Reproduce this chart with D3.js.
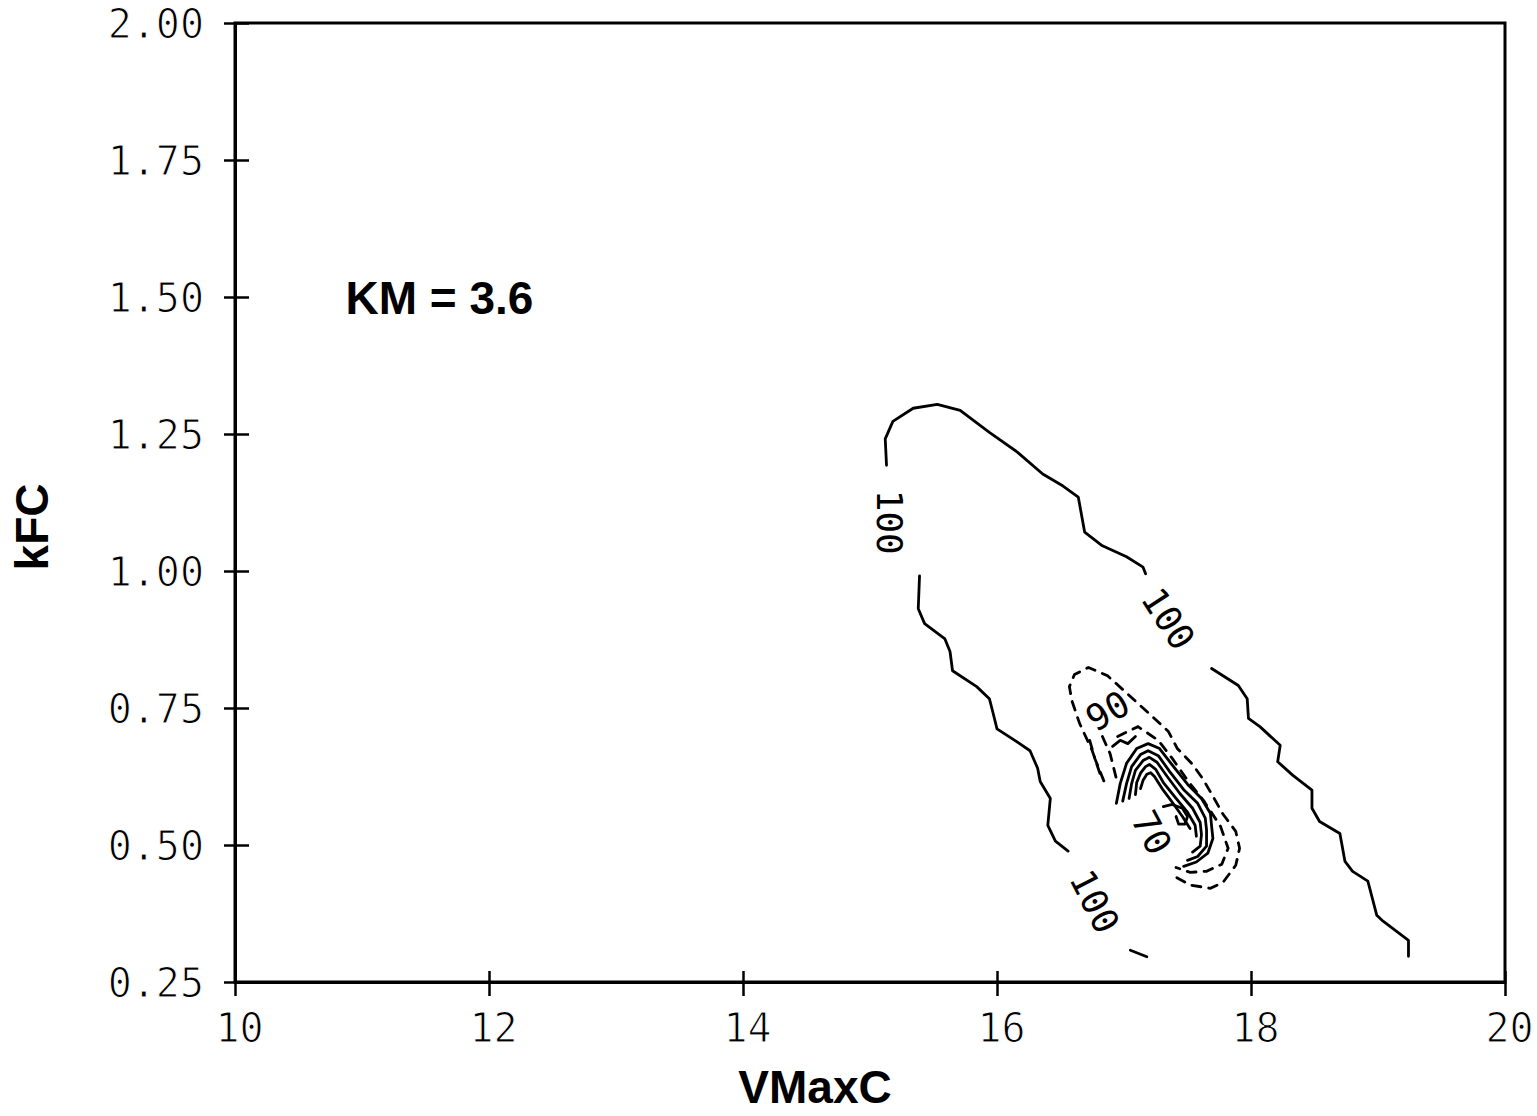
<!DOCTYPE html>
<meta charset="utf-8">
<script src="https://d3js.org/d3.v7.min.js"></script>
<style>
  body { margin: 0; background: #fff; }
</style>
<body>
<div id="chart"></div>
<script>

// axis ticks
var xTicks = [10, 12, 14, 16, 18, 20];
var yTicks = [0.25, 0.50, 0.75, 1.00, 1.25, 1.50, 1.75, 2.00];

// contour lines, [VMaxC, kFC] pairs
var c100upper = [[15.13,1.193],[15.12,1.241],[15.18,1.273],[15.34,1.297],[15.53,1.304],[15.71,1.293],
  [15.94,1.253],[16.16,1.217],[16.36,1.177],[16.52,1.155],[16.64,1.135],[16.69,1.071],[16.83,1.046],
  [17.02,1.026],[17.15,1.007],[17.17,0.995]];
var c100right = [[17.69,0.822],[17.90,0.791],[17.97,0.767],[17.98,0.731],[18.07,0.716],[18.23,0.682],
  [18.21,0.652],[18.33,0.627],[18.48,0.600],[18.48,0.567],[18.54,0.543],[18.70,0.521],[18.74,0.470],
  [18.80,0.452],[18.92,0.434],[18.99,0.372],[19.04,0.361],[19.24,0.326],[19.24,0.297]];
var c100left = [[15.39,0.991],[15.38,0.931],[15.43,0.904],[15.59,0.876],[15.63,0.853],[15.65,0.818],
  [15.84,0.789],[15.94,0.767],[15.97,0.740],[16.00,0.712],[16.14,0.691],[16.26,0.672],[16.32,0.640],
  [16.34,0.616],[16.42,0.585],[16.40,0.536],[16.46,0.507],[16.56,0.489]];
var c100tail = [[17.05,0.308],[17.18,0.296]];

var c90outer = [[16.81,0.631],[16.75,0.672],[16.65,0.722],[16.59,0.763],[16.57,0.789],[16.61,0.811],
  [16.72,0.824],[16.87,0.809],[17.05,0.771],[17.23,0.733],[17.35,0.707],[17.42,0.676],[17.54,0.647],
  [17.62,0.621],[17.70,0.589],[17.78,0.556],[17.88,0.525],[17.91,0.494],[17.88,0.463],[17.78,0.432],
  [17.68,0.421],[17.52,0.427],[17.38,0.445]];
var c85ring = [[16.95,0.698],[17.11,0.716],[17.27,0.691],[17.38,0.658],[17.50,0.618],[17.63,0.580],
  [17.76,0.534],[17.82,0.494],[17.77,0.465],[17.65,0.452],[17.52,0.450],[17.41,0.459]];
var c85leftA = [[16.73,0.691],[16.77,0.658],[16.85,0.612]];
var c85leftB = [[16.83,0.698],[16.89,0.667],[16.94,0.621]];

var c80 = [[16.94,0.576],[16.97,0.612],[17.02,0.649],[17.10,0.676],[17.19,0.685],[17.28,0.676],
  [17.39,0.643],[17.50,0.611],[17.61,0.585],[17.68,0.558],[17.69,0.534],[17.70,0.512],[17.66,0.485],
  [17.57,0.469],[17.47,0.461]];
var c78 = [[16.99,0.580],[17.02,0.612],[17.06,0.643],[17.13,0.665],[17.19,0.672],[17.27,0.663],
  [17.36,0.634],[17.47,0.601],[17.58,0.576],[17.64,0.549],[17.65,0.527],[17.65,0.498],[17.58,0.479],
  [17.50,0.472]];
var c76 = [[17.04,0.585],[17.06,0.612],[17.09,0.636],[17.15,0.654],[17.20,0.660],[17.26,0.651],
  [17.34,0.625],[17.44,0.594],[17.54,0.567],[17.60,0.541],[17.61,0.519],[17.60,0.498],[17.54,0.487]];
var c74 = [[17.09,0.592],[17.10,0.614],[17.13,0.631],[17.17,0.643],[17.20,0.647],[17.25,0.638],
  [17.31,0.614],[17.41,0.585],[17.50,0.560],[17.56,0.536],[17.57,0.516]];
var c72 = [[17.13,0.603],[17.15,0.618],[17.18,0.629],[17.21,0.632],[17.24,0.625],[17.30,0.603],
  [17.38,0.578],[17.46,0.552],[17.52,0.530]];
var c70curl = [[17.31,0.570],[17.38,0.574],[17.46,0.567],[17.50,0.552],[17.48,0.538],[17.43,0.538],[17.41,0.552]];
var c80bit = [[16.91,0.680],[16.97,0.691],[17.03,0.685],[17.09,0.698]];

var solidLines = [c100upper, c100right, c100left, c100tail, c80, c78, c76, c74, c72, c70curl, c80bit];
var dashedLines = [c90outer, c85ring, c85leftA, c85leftB];

// contour labels
var labelText  = ["100", "100", "100", "90", "70"];
var labelV     = [15.16, 17.35, 16.77, 16.87, 17.22];
var labelK     = [1.089, 0.913, 0.397, 0.745, 0.523];
var labelAngle = [90, 57, 63, -30, 62];

var width = 1537, height = 1116;
var margin = {top: 23, right: 31, bottom: 132, left: 235};
var plotW = width - margin.left - margin.right,
    plotH = height - margin.top - margin.bottom;

var svg = d3.select("#chart").append("svg")
  .attr("width", width)
  .attr("height", height);

var g = svg.append("g")
  .attr("transform", `translate(${margin.left},${margin.top})`);

var x = d3.scaleLinear().domain([10, 20]).range([0, plotW - 1]);
var y = d3.scaleLinear().domain([0.25, 2.00]).range([plotH - 2, 0]);

var monoFont = "'DejaVu Sans Mono', monospace";

// frame
g.append("rect")
  .attr("x", 0).attr("y", 0)
  .attr("width", x(20)).attr("height", y(0.25))
  .attr("fill", "none")
  .attr("stroke", "#000")
  .attr("stroke-width", 3);

// plotter-style thin digits: white outline eats into the glyph a bit
function thinText(sel) {
  sel.attr("stroke", "#fff")
    .attr("stroke-width", 1.1)
    .attr("paint-order", "normal");
}

// y axis
var yAxis = g.append("g")
  .call(d3.axisLeft(y).tickValues(yTicks).tickFormat(d3.format(".2f")).tickSize(11).tickSizeOuter(0).tickPadding(20));
yAxis.select(".domain").attr("stroke-width", 3);
yAxis.selectAll(".tick line").attr("x2", -11).attr("x1", 14).attr("stroke-width", 2.5);
yAxis.selectAll(".tick text")
  .attr("font-family", monoFont)
  .attr("font-size", 40)
  .attr("fill", "#000")
  .attr("dy", "0.36em")
  .call(thinText);

// x axis
var xAxis = g.append("g")
  .attr("transform", `translate(0,${y(0.25)})`)
  .call(d3.axisBottom(x).tickValues(xTicks).tickFormat(d3.format("d")).tickSize(14).tickSizeOuter(0).tickPadding(18));
xAxis.select(".domain").attr("stroke-width", 3);
xAxis.selectAll(".tick line").attr("y1", -11).attr("y2", 14).attr("stroke-width", 2.5);
xAxis.selectAll(".tick text")
  .attr("font-family", monoFont)
  .attr("font-size", 40)
  .attr("fill", "#000")
  .attr("dx", 4)
  .attr("dy", "0.71em")
  .call(thinText);

// contour lines
var line = d3.line()
  .x(function(d) { return x(d[0]); })
  .y(function(d) { return y(d[1]); })
  .curve(d3.curveLinear);

g.selectAll(".solid")
  .data(solidLines)
  .join("path")
    .attr("class", "solid")
    .attr("d", line)
    .attr("fill", "none")
    .attr("stroke", "#000")
    .attr("stroke-width", 2.8)
    .attr("stroke-linejoin", "round")
    .attr("stroke-linecap", "round");

g.selectAll(".dashed")
  .data(dashedLines)
  .join("path")
    .attr("class", "dashed")
    .attr("d", line)
    .attr("fill", "none")
    .attr("stroke", "#000")
    .attr("stroke-width", 2.8)
    .attr("stroke-dasharray", "9,8")
    .attr("stroke-linecap", "round");

// contour labels
g.selectAll(".clabel")
  .data(labelText)
  .join("text")
    .attr("class", "clabel")
    .attr("transform", function(d, i) {
      return `translate(${x(labelV[i])},${y(labelK[i])}) rotate(${labelAngle[i]})`;
    })
    .attr("text-anchor", "middle")
    .attr("dy", "0.36em")
    .attr("font-family", monoFont)
    .attr("font-size", 36)
    .attr("fill", "#000")
    .text(function(d) { return d; });

// annotation and axis titles
g.append("text")
  .attr("x", x(10.87))
  .attr("y", y(1.50) + 17)
  .attr("font-family", "'Liberation Sans', Arial, sans-serif")
  .attr("font-weight", "bold")
  .attr("font-size", 46)
  .text("KM = 3.6");

svg.append("text")
  .attr("x", 815)
  .attr("y", 1103)
  .attr("text-anchor", "middle")
  .attr("font-family", "'Liberation Sans', Arial, sans-serif")
  .attr("font-weight", "bold")
  .attr("font-size", 46)
  .text("VMaxC");

svg.append("text")
  .attr("transform", "translate(48,527) rotate(-90)")
  .attr("text-anchor", "middle")
  .attr("font-family", "'Liberation Sans', Arial, sans-serif")
  .attr("font-weight", "bold")
  .attr("font-size", 46)
  .text("kFC");

</script>
</body>
